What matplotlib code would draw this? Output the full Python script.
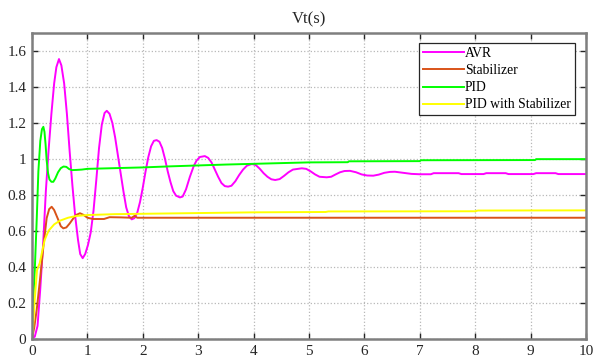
import matplotlib
matplotlib.use("Agg")
import matplotlib.pyplot as plt

# ---- data ----
avr_t = [0, 0.05, 0.1, 0.15, 0.2, 0.25, 0.3, 0.35, 0.4, 0.44, 0.487,
         0.53, 0.58, 0.63, 0.68, 0.73, 0.78, 0.83, 0.87, 0.915,
         0.96, 1.01, 1.06, 1.11, 1.16, 1.21, 1.26, 1.31, 1.35,
         1.40, 1.45, 1.50, 1.55, 1.60, 1.65, 1.70, 1.75, 1.80,
         1.85, 1.90, 1.95, 2.00, 2.05, 2.10, 2.15, 2.20, 2.25,
         2.30, 2.35, 2.40, 2.45, 2.50, 2.55, 2.60, 2.67,
         2.72, 2.78, 2.85, 2.92, 2.97, 3.03, 3.12,
         3.18, 3.24, 3.30, 3.36, 3.42, 3.48, 3.54,
         3.60, 3.67, 3.74, 3.81, 3.88, 3.97,
         4.04, 4.11, 4.18, 4.25, 4.32, 4.39,
         4.47, 4.55, 4.63, 4.71, 4.87,
         4.95, 5.03, 5.11, 5.19, 5.32,
         5.40, 5.48, 5.56, 5.64, 5.74,
         5.85, 5.95, 6.05, 6.16,
         6.26, 6.36, 6.46, 6.55,
         6.70, 6.85, 7.00, 7.20, 7.25, 7.70, 7.75, 8.15, 8.20,
         8.55, 8.60, 9.05, 9.10, 9.45, 9.50, 10.0]
avr_v = [0, 0.01, 0.07, 0.28, 0.52, 0.82, 1.05, 1.25, 1.42, 1.51, 1.555,
         1.52, 1.42, 1.25, 1.04, 0.85, 0.68, 0.55, 0.47, 0.447,
         0.47, 0.52, 0.59, 0.71, 0.88, 1.06, 1.19, 1.255, 1.267,
         1.25, 1.20, 1.12, 1.02, 0.92, 0.82, 0.73, 0.68, 0.663,
         0.67, 0.70, 0.76, 0.84, 0.93, 1.01, 1.07, 1.10, 1.104,
         1.095, 1.06, 1.00, 0.93, 0.87, 0.82, 0.795, 0.785,
         0.79, 0.83, 0.90, 0.96, 0.99, 1.01, 1.015,
         1.005, 0.98, 0.94, 0.90, 0.865, 0.848, 0.845,
         0.85, 0.875, 0.91, 0.94, 0.962, 0.971,
         0.965, 0.945, 0.92, 0.90, 0.886, 0.882,
         0.887, 0.905, 0.925, 0.94, 0.947,
         0.944, 0.93, 0.913, 0.90, 0.897,
         0.90, 0.913, 0.925, 0.932, 0.933,
         0.925, 0.913, 0.907, 0.906,
         0.912, 0.922, 0.927, 0.928,
         0.922, 0.916, 0.914, 0.914, 0.92, 0.92, 0.915, 0.915, 0.92,
         0.92, 0.915, 0.915, 0.92, 0.92, 0.915, 0.915]

stab_t = [0, 0.04, 0.085, 0.145, 0.205, 0.265, 0.31, 0.355, 0.4, 0.475,
          0.52, 0.565, 0.62, 0.68, 0.745, 0.8, 0.866, 0.93, 1.0, 1.1,
          1.3, 1.4, 1.6, 1.8, 1.85, 1.9, 10.0]
stab_v = [0, 0.06, 0.16, 0.33, 0.51, 0.67, 0.72, 0.733, 0.715, 0.66,
          0.625, 0.613, 0.618, 0.64, 0.668, 0.688, 0.697, 0.688, 0.672, 0.665,
          0.665, 0.675, 0.674, 0.672, 0.682, 0.672, 0.672]

pid_t = [0, 0.02, 0.05, 0.085, 0.115, 0.15, 0.18, 0.205, 0.225, 0.245,
         0.265, 0.29, 0.315, 0.35, 0.385, 0.42, 0.47, 0.52, 0.57, 0.62,
         0.67, 0.72, 0.8, 0.9, 1.0, 1.5, 2.0, 2.5, 3.0, 3.5, 4.0, 4.5,
         5.0, 5.7, 5.72, 7.0, 7.02, 9.08, 9.1, 10.0]
pid_v = [0, 0.2, 0.38, 0.66, 0.93, 1.1, 1.165, 1.178, 1.15, 1.08,
         0.99, 0.92, 0.885, 0.872, 0.872, 0.89, 0.925, 0.948, 0.957, 0.955,
         0.943, 0.937, 0.938, 0.94, 0.944, 0.948, 0.952, 0.958, 0.963, 0.968, 0.972, 0.976,
         0.98, 0.981, 0.986, 0.987, 0.992, 0.993, 0.998, 0.998]

pids_t = [0, 0.02, 0.05, 0.09, 0.14, 0.18, 0.23, 0.3, 0.4, 0.5, 0.65,
          0.8, 1.0, 1.5, 2.0, 3.0, 4.0, 5.3, 5.35, 8.0, 8.05, 10.0]
pids_v = [0, 0.06, 0.22, 0.38, 0.42, 0.48, 0.55, 0.6, 0.635, 0.655, 0.672,
          0.682, 0.687, 0.692, 0.694, 0.698, 0.702, 0.704, 0.707, 0.708, 0.712, 0.713]

series_names = ["AVR", "Stabilizer", "PID", "PID with Stabilizer"]
x_ticks = [0, 1, 2, 3, 4, 5, 6, 7, 8, 9, 10]
x_tick_labels = ["0", "1", "2", "3", "4", "5", "6", "7", "8", "9", "10"]
y_ticks = [0, 0.2, 0.4, 0.6, 0.8, 1.0, 1.2, 1.4, 1.6]
y_tick_labels = ["0", "0.2", "0.4", "0.6", "0.8", "1", "1.2", "1.4", "1.6"]
title = "Vt(s)"

# ---- plotting ----
plt.rcParams['font.family'] = ['Liberation Serif', 'DejaVu Serif']
fig = plt.figure(figsize=(5.93, 3.61), dpi=100)
ax = fig.add_axes([32/593, 1 - 338.5/361, (586 - 32)/593, (338.5 - 33)/361])

lw = 1.4
ax.plot(avr_t, avr_v, color="#ff00ff", lw=lw, label=series_names[0])
ax.plot(stab_t, stab_v, color="#d95319", lw=lw, label=series_names[1])
ax.plot(pid_t, pid_v, color="#00ff00", lw=lw, label=series_names[2])
ax.plot(pids_t, pids_v, color="#ffff00", lw=lw, label=series_names[3])

ax.set_xlim(0, 10)
ax.set_ylim(0, 1.7)
ax.set_xticks(x_ticks)
ax.set_xticklabels(x_tick_labels)
ax.set_yticks(y_ticks)
ax.set_yticklabels(y_tick_labels)
ax.tick_params(direction="in", top=True, right=True, length=4, width=1,
               color="#262626", labelsize=11, labelcolor="#262626")
ax.tick_params(axis="x", pad=5)
ax.tick_params(axis="y", pad=4)
ax.grid(True, linestyle=":", color="#b8b8b8", linewidth=0.9)
for s in ax.spines.values():
    s.set_color("#7f7f7f")
    s.set_linewidth(1.8)

ax.set_title(title, fontsize=12, color="#262626", pad=7)

leg = ax.legend(loc="upper right", bbox_to_anchor=(0.98, 0.967), fontsize=9.8,
                handlelength=3.0, handletextpad=0.1, labelspacing=0.3,
                borderpad=0.3, borderaxespad=0, fancybox=False, framealpha=1,
                edgecolor="#262626")
leg.get_frame().set_linewidth(0.9)

fig.savefig("out.png", dpi=100)
